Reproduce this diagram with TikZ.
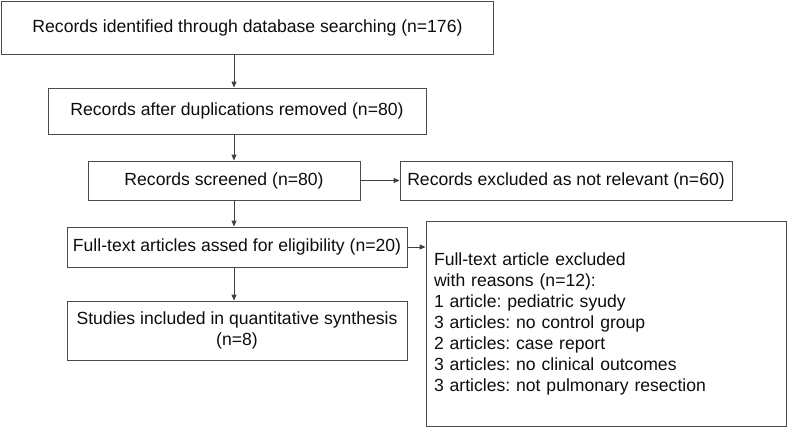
\documentclass[tikz,border=0pt]{standalone}
\usepackage{fontspec}
\setmainfont{Liberation Sans}
\usetikzlibrary{arrows.meta}
\frenchspacing
\begin{document}
\begin{tikzpicture}[x=1pt,y=-1pt,
  box/.style={draw=black!70, line width=0.9pt, minimum width=#1, inner sep=0pt, font=\fontsize{17.6}{21}\selectfont\frenchspacing, text=black!95, align=center},
  conn/.style={draw=black!75, line width=0.9pt, -{Triangle[length=6pt,width=5pt]}}]
\useasboundingbox (0,0) rectangle (787,428);
\node[box=492pt, minimum height=53pt] (b1) at (247.5,27.5) {Records identified through database searching (n=176)};
\node[box=378pt, minimum height=46pt] (b2) at (237,111) {Records after duplications removed (n=80)};
\node[box=272pt, minimum height=39pt] (b3) at (224,180.5) {Records screened (n=80)};
\node[box=332pt, minimum height=39pt] (b4) at (566,180.5) {Records excluded as not relevant (n=60)};
\node[box=340pt, minimum height=40pt] (b5) at (237,247) {Full-text articles assed for eligibility (n=20)};
\node[box=340pt, minimum height=59pt] (b7) at (237,330.5) {Studies included in quantitative synthesis\\(n=8)};
\node[box=360pt, minimum height=205pt, text width=344pt, align=left] (b6) at (606,323.5) {Full-text article excluded\\with reasons (n=12):\\1 article: pediatric syudy\\3 articles: no control group\\2 articles: case report\\3 articles: no clinical outcomes\\3 articles: not pulmonary resection};
\coordinate (ax) at (234,0);
\draw[conn] (b1.south -| ax) -- (b2.north -| ax);
\draw[conn] (b2.south -| ax) -- (b3.north -| ax);
\draw[conn] (b3.south -| ax) -- (b5.north -| ax);
\draw[conn] (b5.south -| ax) -- (b7.north -| ax);
\draw[conn] (b3.east) -- (b4.west);
\draw[conn] (b5.east) -- (b6.west |- b5.east);
\end{tikzpicture}
\end{document}
